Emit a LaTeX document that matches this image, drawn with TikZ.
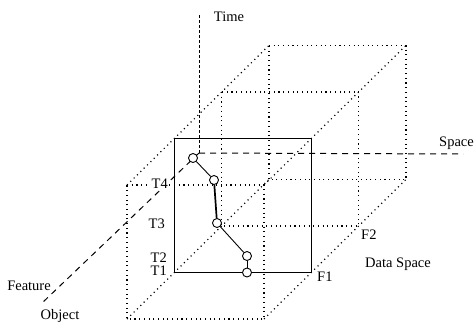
\documentclass[tikz,border=0pt]{standalone}
\usepackage{fontspec}
\setmainfont{Liberation Serif}
\usetikzlibrary{calc}

\begin{document}
\begin{tikzpicture}[x=1pt, y=-1pt, font=\fontsize{14.5}{16}\selectfont]
  \tikzset{dotline/.style={line width=1.2pt, dash pattern=on 1.1pt off 3.6pt},axisline/.style={line width=1pt, dash pattern=on 6pt off 5pt},slice/.style={draw, line width=1.1pt},tpoint/.style={draw, circle, line width=0.9pt, fill=white, inner sep=0pt, minimum size=9pt},lbl/.style={inner sep=1pt}}
  \useasboundingbox (0,0) rectangle (476,322);
  % corners of the data space box
  \coordinate (ftl) at (127,185);
  \coordinate (ftr) at (264,185);
  \coordinate (fbl) at (127,319);
  \coordinate (fbr) at (264,319);
  \coordinate (btl) at (268.9,45.5);
  \coordinate (btr) at (405.9,45.5);
  \coordinate (bbl) at (268.9,179.5);
  \coordinate (bbr) at (405.9,179.5);
  \coordinate (f1) at ($(fbr)!1/3!(bbr)$);
  \coordinate (f2) at ($(fbr)!2/3!(bbr)$);
  \draw[dotline] (ftl) -- (ftr) -- (fbr) -- (fbl) -- cycle;
  \draw[dotline] (btl) -- (btr) -- (bbr) -- (bbl) -- cycle;
  \draw[dotline] (ftl) -- (btl);
  \draw[dotline] (ftr) -- (btr);
  \draw[dotline] (fbl) -- (bbl);
  \draw[dotline] (fbr) -- (bbr);
  \draw[dotline] ($(ftl)!2/3!(btl)$) rectangle (f2);
  \draw[slice] ($(ftl)!1/3!(btl)$) rectangle (f1);
  % axes
  \coordinate (o) at (199,153);
  \coordinate (tend) at (199,14);
  \coordinate (send) at (463,154);
  \coordinate (fend) at (41,304);
  \draw[axisline, dash pattern=on 3pt off 2pt] (o) -- (tend);
  \draw[axisline] (o) -- (send);
  \draw[axisline] (o) -- (fend);
  % trajectory
  \node[tpoint] (p0) at (193,158) {};
  \node[tpoint] (p4) at (214,180) {};
  \node[tpoint] (p3) at (217,223) {};
  \node[tpoint] (p2) at (247,256) {};
  \node[tpoint] (p1) at (247,272.5) {};
  \draw[line width=0.9pt] (p0) -- (p4);
  \draw[line width=1.7pt] (p4) -- (p3);
  \draw[line width=0.9pt] (p3) -- (p2);
  \draw[line width=0.9pt] (p2) -- (p1);
  % labels
  \node[lbl] (time) at (229,17) {Time};
  \node[lbl, anchor=west] (space) at (438,143) {Space};
  \node[lbl] (feature) at (29,286) {Feature};
  \node[lbl] (object) at (60,316) {Object};
  \node[lbl, anchor=east, fill=white] (t4) at (169,184) {T4};
  \node[lbl, anchor=east] (t3) at (166,224) {T3};
  \node[lbl, anchor=east] (t2) at (168,258) {T2};
  \node[lbl, anchor=east] (t1) at (168,271) {T1};
  \node[lbl, anchor=west] (f1lbl) at (316,277) {F1};
  \node[lbl, anchor=west] (f2lbl) at (360,235) {F2};
  \node[lbl] (dspace) at (398,264) {Data Space};
\end{tikzpicture}
\end{document}
